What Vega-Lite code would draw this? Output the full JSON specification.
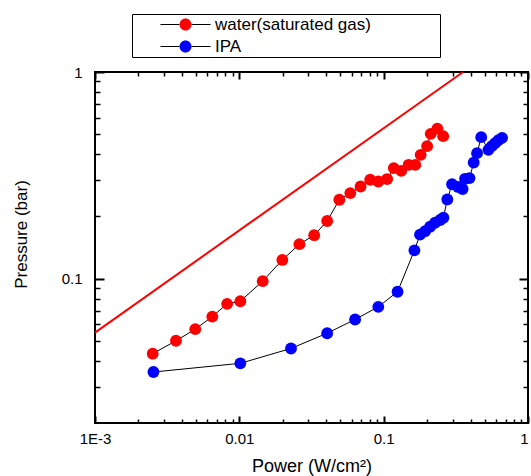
{
  "$schema": "https://vega.github.io/schema/vega-lite/v6.json",
  "width": 433,
  "height": 351,
  "autosize": {"type": "none"},
  "padding": {"left": 95, "top": 72, "right": 3, "bottom": 53},
  "background": "white",
  "config": {
    "view": {"stroke": "black", "strokeWidth": 2},
    "font": "Liberation Sans"
  },
  "datasets": {
    "fit": [
      {"power": 0.001, "pressure": 0.0548},
      {"power": 0.355, "pressure": 1.0}
    ],
    "pts": [
      {"series": "water(saturated gas)", "power": 0.00251, "pressure": 0.0433},
      {"series": "water(saturated gas)", "power": 0.00364, "pressure": 0.0500},
      {"series": "water(saturated gas)", "power": 0.00495, "pressure": 0.0569},
      {"series": "water(saturated gas)", "power": 0.00650, "pressure": 0.0655},
      {"series": "water(saturated gas)", "power": 0.00823, "pressure": 0.0755},
      {"series": "water(saturated gas)", "power": 0.01016, "pressure": 0.0777},
      {"series": "water(saturated gas)", "power": 0.01452, "pressure": 0.0972},
      {"series": "water(saturated gas)", "power": 0.01986, "pressure": 0.1231},
      {"series": "water(saturated gas)", "power": 0.02607, "pressure": 0.1468},
      {"series": "water(saturated gas)", "power": 0.0330, "pressure": 0.1622},
      {"series": "water(saturated gas)", "power": 0.0406, "pressure": 0.1900},
      {"series": "water(saturated gas)", "power": 0.0493, "pressure": 0.2409},
      {"series": "water(saturated gas)", "power": 0.0587, "pressure": 0.2594},
      {"series": "water(saturated gas)", "power": 0.0692, "pressure": 0.2791},
      {"series": "water(saturated gas)", "power": 0.0806, "pressure": 0.3008},
      {"series": "water(saturated gas)", "power": 0.0918, "pressure": 0.2951},
      {"series": "water(saturated gas)", "power": 0.1057, "pressure": 0.3033},
      {"series": "water(saturated gas)", "power": 0.1175, "pressure": 0.3426},
      {"series": "water(saturated gas)", "power": 0.1324, "pressure": 0.3325},
      {"series": "water(saturated gas)", "power": 0.1490, "pressure": 0.3555},
      {"series": "water(saturated gas)", "power": 0.1656, "pressure": 0.3550},
      {"series": "water(saturated gas)", "power": 0.1804, "pressure": 0.3972},
      {"series": "water(saturated gas)", "power": 0.2000, "pressure": 0.4377},
      {"series": "water(saturated gas)", "power": 0.2118, "pressure": 0.5018},
      {"series": "water(saturated gas)", "power": 0.2355, "pressure": 0.5316},
      {"series": "water(saturated gas)", "power": 0.2584, "pressure": 0.4891},
      {"series": "IPA", "power": 0.00254, "pressure": 0.0353},
      {"series": "IPA", "power": 0.01016, "pressure": 0.0389},
      {"series": "IPA", "power": 0.0228, "pressure": 0.0459},
      {"series": "IPA", "power": 0.0406, "pressure": 0.0544},
      {"series": "IPA", "power": 0.0634, "pressure": 0.0634},
      {"series": "IPA", "power": 0.0918, "pressure": 0.0730},
      {"series": "IPA", "power": 0.1248, "pressure": 0.0864},
      {"series": "IPA", "power": 0.1633, "pressure": 0.1370},
      {"series": "IPA", "power": 0.1786, "pressure": 0.1632},
      {"series": "IPA", "power": 0.1936, "pressure": 0.1696},
      {"series": "IPA", "power": 0.2097, "pressure": 0.1783},
      {"series": "IPA", "power": 0.2270, "pressure": 0.1864},
      {"series": "IPA", "power": 0.2460, "pressure": 0.1922},
      {"series": "IPA", "power": 0.2594, "pressure": 0.1971},
      {"series": "IPA", "power": 0.2760, "pressure": 0.2416},
      {"series": "IPA", "power": 0.2978, "pressure": 0.2861},
      {"series": "IPA", "power": 0.3282, "pressure": 0.2777},
      {"series": "IPA", "power": 0.3524, "pressure": 0.2715},
      {"series": "IPA", "power": 0.3664, "pressure": 0.3041},
      {"series": "IPA", "power": 0.3936, "pressure": 0.3065},
      {"series": "IPA", "power": 0.4206, "pressure": 0.3645},
      {"series": "IPA", "power": 0.4436, "pressure": 0.4047},
      {"series": "IPA", "power": 0.4742, "pressure": 0.4836},
      {"series": "IPA", "power": 0.5316, "pressure": 0.4200},
      {"series": "IPA", "power": 0.5610, "pressure": 0.4377},
      {"series": "IPA", "power": 0.5916, "pressure": 0.4523},
      {"series": "IPA", "power": 0.6237, "pressure": 0.4677},
      {"series": "IPA", "power": 0.6613, "pressure": 0.4799}
    ]
  },
  "resolve": {"axis": {"x": "independent", "y": "independent"}},
  "layer": [
    {
      "data": {"name": "fit"},
      "mark": {"type": "line", "color": "#ff0000", "strokeWidth": 2},
      "encoding": {
        "x": {
          "field": "power", "type": "quantitative",
          "scale": {"type": "log", "domain": [0.001, 1], "nice": false},
          "axis": {
            "orient": "bottom",
            "values": [0.001, 0.01, 0.1, 1],
            "format": "~g",
            "labelExpr": "datum.value < 0.005 ? '1E-3' : datum.label",
            "labelAlign": {"condition": {"test": "datum.value >= 1", "value": "right"}, "value": "center"},
            "domain": false, "ticks": false,
            "grid": true, "gridColor": "black", "gridOpacity": 1, "gridWidth": 2, "gridDash": [7, 337],
            "labelFontSize": 15, "labelColor": "black", "labelPadding": 8,
            "title": "Power (W/cm²)", "titleFontSize": 18, "titleFontWeight": "normal", "titleColor": "black",
            "titleY": 43, "titleBaseline": "middle"
          }
        },
        "y": {
          "field": "pressure", "type": "quantitative",
          "scale": {"type": "log", "domain": [0.02, 1], "nice": false},
          "axis": {
            "orient": "left",
            "values": [0.1, 1],
            "format": "~g",
            "domain": false, "ticks": false,
            "grid": true, "gridColor": "black", "gridOpacity": 1, "gridWidth": 2, "gridDash": [9, 415],
            "labelFontSize": 15, "labelColor": "black", "labelPadding": 13,
            "title": "Pressure (bar)", "titleFontSize": 17, "titleFontWeight": "normal", "titleColor": "black",
            "titleX": -74, "titleY": 162, "titleBaseline": "middle", "titleAlign": "center"
          }
        }
      }
    },
    {
      "data": {"name": "pts"},
      "mark": {"type": "line", "strokeWidth": 1},
      "encoding": {
        "x": {
          "field": "power", "type": "quantitative",
          "scale": {"type": "log", "domain": [0.001, 1], "nice": false},
          "axis": {
            "orient": "bottom",
            "values": [0.002, 0.003, 0.004, 0.005, 0.006, 0.007, 0.008, 0.009, 0.02, 0.03, 0.04, 0.05, 0.06, 0.07, 0.08, 0.09, 0.2, 0.3, 0.4, 0.5, 0.6, 0.7, 0.8, 0.9],
            "domain": false, "ticks": false, "labels": false, "title": null,
            "grid": true, "gridColor": "black", "gridOpacity": 1, "gridWidth": 1.5, "gridDash": [4, 343]
          }
        },
        "y": {
          "field": "pressure", "type": "quantitative",
          "scale": {"type": "log", "domain": [0.02, 1], "nice": false},
          "axis": {
            "orient": "left",
            "values": [0.03, 0.04, 0.05, 0.06, 0.07, 0.08, 0.09, 0.2, 0.3, 0.4, 0.5, 0.6, 0.7, 0.8, 0.9],
            "domain": false, "ticks": false, "labels": false, "title": null,
            "grid": true, "gridColor": "black", "gridOpacity": 1, "gridWidth": 1.5, "gridDash": [5, 423]
          }
        },
        "stroke": {
          "field": "series", "type": "nominal",
          "sort": ["water(saturated gas)", "IPA"],
          "scale": {"range": ["black", "black"]},
          "legend": {
            "orient": "none", "legendX": 37, "legendY": -58, "title": null,
            "symbolType": "M-4.17,0H-1M1,0H4.17",
            "symbolSize": 144, "symbolStrokeWidth": 1.2, "symbolFillColor": "transparent",
            "symbolOffset": 43, "labelOffset": 21, "labelOpacity": 0,
            "labelFontSize": 17, "padding": 2, "rowPadding": 4
          }
        }
      }
    },
    {
      "data": {"name": "pts"},
      "mark": {"type": "point", "filled": true, "size": 140, "strokeWidth": 0, "opacity": 1},
      "encoding": {
        "x": {
          "field": "power", "type": "quantitative",
          "scale": {"type": "log", "domain": [0.001, 1], "nice": false},
          "axis": null
        },
        "y": {
          "field": "pressure", "type": "quantitative",
          "scale": {"type": "log", "domain": [0.02, 1], "nice": false},
          "axis": null
        },
        "fill": {
          "field": "series", "type": "nominal",
          "scale": {"domain": ["water(saturated gas)", "IPA"], "range": ["#ff0000", "#0000ff"]},
          "legend": {
            "orient": "none", "legendX": 37, "legendY": -58, "title": null,
            "symbolType": "M42,0M1,0A1,1 0 1,1 -1,0A1,1 0 1,1 1,0Z",
            "symbolSize": 144, "symbolStrokeWidth": 0,
            "symbolOffset": 43, "labelOffset": 21,
            "labelFontSize": 17, "labelColor": "black", "padding": 2, "rowPadding": 4,
            "strokeColor": "black"
          }
        }
      }
    }
  ]
}
